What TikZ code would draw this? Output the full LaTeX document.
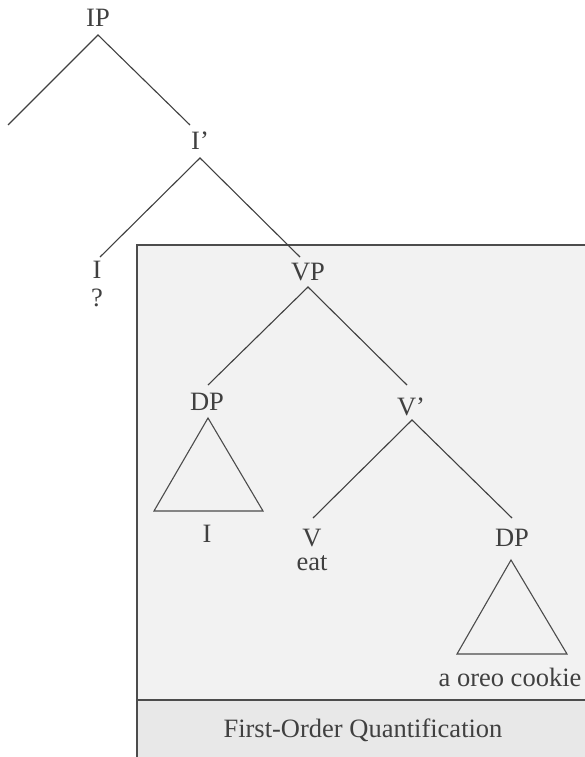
\documentclass[tikz,border=0pt]{standalone}
\usepackage{fontspec}
\setmainfont{Liberation Serif}
\begin{document}
\begin{tikzpicture}[x=1pt,y=-1pt,
  lbl/.style={inner sep=0pt,text=black!75,font=\fontsize{26.5}{30}\selectfont},
  branch/.style={draw=black!75,line width=1.1pt},
  tri/.style={draw=black!70,line width=1.1pt}]
\useasboundingbox (0,0) rectangle (585,757);
% box
\fill[black!5] (137,245) rectangle (590,700);
\fill[black!9] (137,700) rectangle (590,762);
\draw[black!70,line width=1.8pt] (590,245) -- (137,245) -- (137,762);
\draw[black!70,line width=1.8pt] (137,700) -- (590,700);
% labels
\node[lbl] (IP) at (98,18) {IP};
\node[lbl] (Ibar) at (200,141) {I’};
\node[lbl] (I) at (97,270) {I};
\node[lbl] (q) at (97,298) {?};
\node[lbl] (VP) at (308,272) {VP};
\node[lbl] (DP1) at (207,402) {DP};
\node[lbl] (Vbar) at (411,407) {V’};
\node[lbl] (Iw) at (207,534) {I};
\node[lbl] (V) at (312,538) {V};
\node[lbl] (eat) at (312,563) {eat};
\node[lbl] (DP2) at (512,538) {DP};
\node[lbl] (cookie) at (510,677) {a oreo cookie};
\node[lbl] (foq) at (363,730) {First-Order Quantification};
% coordinates
\coordinate (ipA) at (98,35);
\coordinate (ipL) at (8,125);
\coordinate (ipR) at (190,125);
\coordinate (ibA) at (200,158);
\coordinate (ibL) at (100,257);
\coordinate (ibR) at (300,257);
\coordinate (vpA) at (308,287);
\coordinate (vpL) at (208,385);
\coordinate (vpR) at (407,385);
\coordinate (vbA) at (412,420);
\coordinate (vbL) at (313,518);
\coordinate (vbR) at (512,518);
\coordinate (t1A) at (208,418);
\coordinate (t1L) at (154,511);
\coordinate (t1R) at (263,511);
\coordinate (t2A) at (511,560);
\coordinate (t2L) at (457,654);
\coordinate (t2R) at (567,654);
% branches
\draw[branch] (ipL) -- (ipA) -- (ipR);
\draw[branch] (ibL) -- (ibA) -- (ibR);
\draw[branch] (vpL) -- (vpA) -- (vpR);
\draw[branch] (vbL) -- (vbA) -- (vbR);
\draw[tri] (t1A) -- (t1L) -- (t1R) -- cycle;
\draw[tri] (t2A) -- (t2L) -- (t2R) -- cycle;
\end{tikzpicture}
\end{document}
